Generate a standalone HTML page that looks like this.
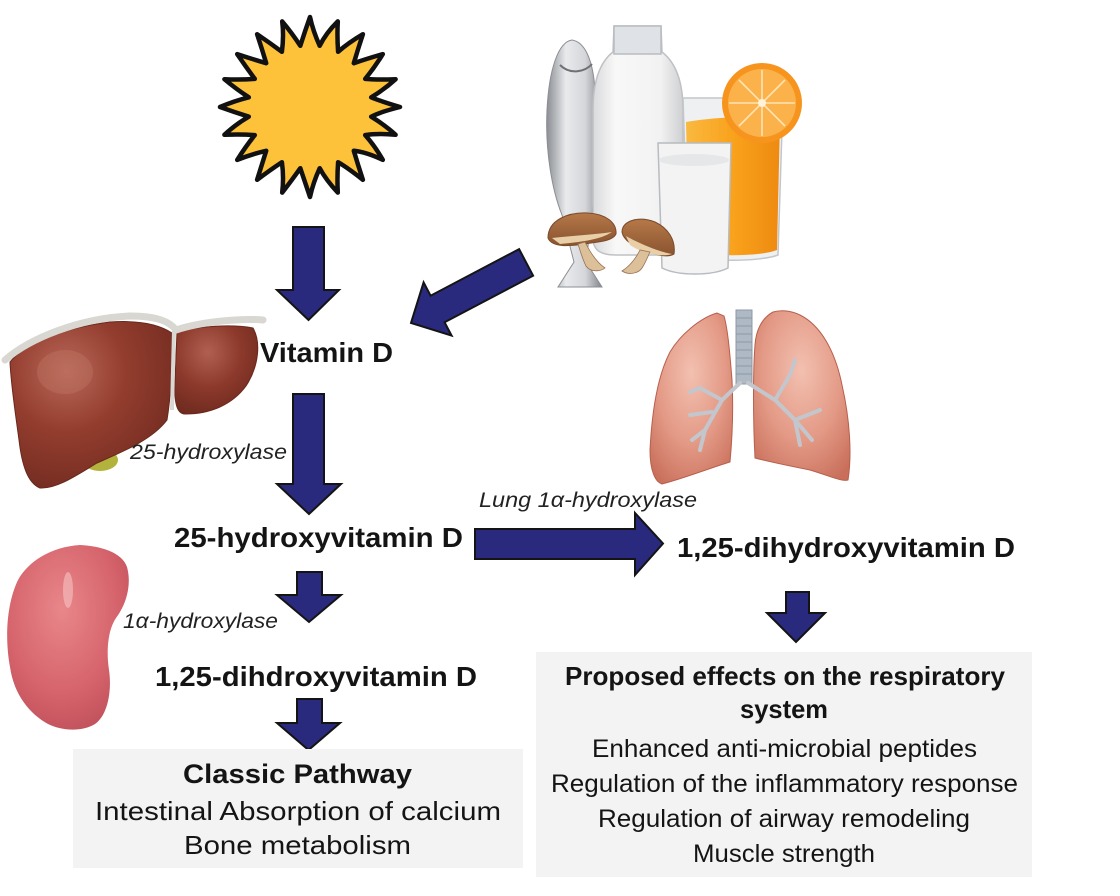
<!DOCTYPE html>
<html>
<head>
<meta charset="utf-8">
<style>
  html,body{margin:0;padding:0;background:#fff;}
  svg{display:block;}
  .b{font-family:"Liberation Sans",Arial,sans-serif;font-weight:bold;fill:#141414;}
  .r{font-family:"Liberation Sans",Arial,sans-serif;fill:#141414;}
  .i{font-family:"Liberation Sans",Arial,sans-serif;font-style:italic;fill:#222;}
</style>
</head>
<body>
<svg width="1120" height="896" viewBox="0 0 1120 896" xmlns="http://www.w3.org/2000/svg">
  <defs>
    <radialGradient id="liverG" cx="0.35" cy="0.3" r="0.8">
      <stop offset="0" stop-color="#b9685a"/>
      <stop offset="0.45" stop-color="#933d2e"/>
      <stop offset="1" stop-color="#6f2a1f"/>
    </radialGradient>
    <radialGradient id="liverG2" cx="0.4" cy="0.3" r="0.8">
      <stop offset="0" stop-color="#b06050"/>
      <stop offset="0.5" stop-color="#8c392b"/>
      <stop offset="1" stop-color="#6a281d"/>
    </radialGradient>
    <radialGradient id="kidG" cx="0.45" cy="0.35" r="0.75">
      <stop offset="0" stop-color="#e8878b"/>
      <stop offset="0.6" stop-color="#d6646c"/>
      <stop offset="1" stop-color="#bb4c57"/>
    </radialGradient>
    <radialGradient id="lungG" cx="0.5" cy="0.35" r="0.75">
      <stop offset="0" stop-color="#f3c0b0"/>
      <stop offset="0.55" stop-color="#e39a86"/>
      <stop offset="1" stop-color="#c86e5a"/>
    </radialGradient>
    <linearGradient id="fishG" x1="0" y1="0" x2="1" y2="0">
      <stop offset="0" stop-color="#8a8d92"/>
      <stop offset="0.35" stop-color="#e8eaec"/>
      <stop offset="0.7" stop-color="#d4d6d9"/>
      <stop offset="1" stop-color="#80838a"/>
    </linearGradient>
    <linearGradient id="milkG" x1="0" y1="0" x2="1" y2="0">
      <stop offset="0" stop-color="#d9dadc"/>
      <stop offset="0.25" stop-color="#f8f8f8"/>
      <stop offset="0.75" stop-color="#f2f2f2"/>
      <stop offset="1" stop-color="#cfd0d2"/>
    </linearGradient>
    <linearGradient id="juiceG" x1="0" y1="0" x2="1" y2="0">
      <stop offset="0" stop-color="#f9b940"/>
      <stop offset="0.5" stop-color="#f9a21c"/>
      <stop offset="1" stop-color="#ee8a10"/>
    </linearGradient>
    <linearGradient id="mushG" x1="0" y1="0" x2="0" y2="1">
      <stop offset="0" stop-color="#b57848"/>
      <stop offset="1" stop-color="#8a5430"/>
    </linearGradient>
  </defs>

  <!-- Sun (concave spikes) -->
  <path fill="#fdc13a" stroke="#111" stroke-width="4.5" stroke-linejoin="round"
    d="M400,107 Q380,112 371.2,116.7 Q385,125 395.6,134.8 Q378,133 365.2,135.1 Q375,146 382.8,159.9 Q366,152 353.8,150.8 Q358,165 362.9,179.8 Q348,168 338.1,162.2 Q337,178 337.8,192.6 Q326,180 319.7,168.2 Q313,183 310,197 Q305,182 300.3,168.2 Q292,180 282.2,192.6 Q284,177 281.9,162.2 Q270,170 257.1,179.8 Q262,164 266.2,150.8 Q252,154 237.2,159.9 Q246,146 254.8,135.1 Q240,134 224.4,134.8 Q236,124 248.8,116.7 Q234,112 220,107 Q234,101 248.8,97.3 Q236,89 224.4,79.2 Q240,80 254.8,78.9 Q246,67 237.2,54.1 Q252,59 266.2,63.2 Q262,49 257.1,34.2 Q270,43 281.9,51.8 Q284,36 282.2,21.4 Q292,33 300.3,45.8 Q305,31 310,17 Q313,31 319.7,45.8 Q326,33 337.8,21.4 Q337,36 338.1,51.8 Q348,43 362.9,34.2 Q358,49 353.8,63.2 Q366,59 382.8,54.1 Q375,67 365.2,78.9 Q378,80 395.6,79.2 Q385,89 371.2,97.3 Q380,101 400,107 Z"/>

  <!-- Food: fish -->
  <path d="M572,40 C585,42 593,60 595,90 C597,130 596,180 592,215 L586,262 L602,287 L558,287 L574,262 L562,215 C552,190 545,150 547,110 C549,70 558,42 572,40 Z" fill="url(#fishG)" stroke="#8c8f94" stroke-width="1"/>
  <path d="M560,65 C570,75 585,72 592,64" stroke="#6d7075" stroke-width="2" fill="none"/>
  <!-- milk bottle -->
  <path d="M614,26 L661,26 L662,52 C675,62 683,80 683,110 L683,238 C683,250 675,255 660,255 L616,255 C600,255 593,250 593,238 L593,110 C593,80 600,62 613,52 Z" fill="url(#milkG)" stroke="#bfc1c4" stroke-width="1.5"/>
  <rect x="614" y="26" width="47" height="28" fill="#dfe2e6" stroke="#b9bcc0" stroke-width="1.5"/>
  <!-- juice glass -->
  <path d="M683,98 L783,98 L778,255 C760,262 705,262 688,255 Z" fill="#eef0f2" stroke="#c4c7ca" stroke-width="1.5"/>
  <path d="M686,122 C720,116 760,116 780,120 L777,250 C760,257 705,257 689,250 Z" fill="url(#juiceG)"/>
  <!-- orange slice -->
  <circle cx="762" cy="103" r="40" fill="#f7941d"/>
  <circle cx="762" cy="103" r="34" fill="#fcb24a"/>
  <g stroke="#fde3b5" stroke-width="1.6">
    <line x1="762" y1="70" x2="762" y2="136"/>
    <line x1="729" y1="103" x2="795" y2="103"/>
    <line x1="739" y1="80" x2="785" y2="126"/>
    <line x1="785" y1="80" x2="739" y2="126"/>
  </g>
  <circle cx="762" cy="103" r="4" fill="#fff2d8"/>
  <!-- milk glass -->
  <path d="M658,143 L731,143 L728,268 C712,276 678,276 662,268 Z" fill="#f3f3f3" stroke="#b8bbbf" stroke-width="1.5"/>
  <ellipse cx="694" cy="160" rx="35" ry="6" fill="#e6e7e9"/>
  <!-- mushrooms -->
  <path d="M548,238 C548,220 568,212 588,213 C605,214 617,222 616,234 C612,242 595,242 585,244 C570,246 552,248 548,238 Z" fill="url(#mushG)" stroke="#7a4a2a" stroke-width="1"/>
  <path d="M552,238 C570,236 600,234 612,232 C600,240 580,242 560,244 Z" fill="#e8cfa8"/>
  <path d="M585,242 C590,252 596,262 605,268 C600,272 590,272 586,266 C582,258 580,250 578,244 Z" fill="#dcc09a" stroke="#9a7050" stroke-width="0.8"/>
  <path d="M622,232 C622,220 640,216 655,222 C668,228 676,240 674,254 C668,258 655,255 645,250 C635,246 624,242 622,232 Z" fill="url(#mushG)" stroke="#7a4a2a" stroke-width="1"/>
  <path d="M626,236 C640,244 660,252 672,254 C660,258 640,252 630,245 Z" fill="#e8cfa8"/>
  <path d="M640,250 C636,258 630,266 622,271 C628,275 638,274 642,268 C646,262 648,256 650,252 Z" fill="#dcc09a" stroke="#9a7050" stroke-width="0.8"/>

  <!-- Liver -->
  <ellipse cx="100" cy="460" rx="18" ry="11" fill="#b3b23c"/>
  <path d="M10,362 C24,344 62,328 110,322 C140,320 160,325 172,333 C173,360 171,395 167,420 C152,440 122,452 97,463 C77,475 57,489 40,488 C28,483 22,466 19,440 C15,410 11,385 10,362 Z" fill="url(#liverG)" stroke="#6a281c" stroke-width="1"/>
  <path d="M177,332 C200,326 232,324 253,328 C261,342 259,366 246,386 C232,405 210,414 185,414 C176,414 174,400 175,380 Z" fill="url(#liverG2)" stroke="#6a281c" stroke-width="1"/>
  <ellipse cx="65" cy="372" rx="28" ry="22" fill="#c47a68" opacity="0.35"/>
  <path d="M5,360 C30,338 80,318 130,316 C158,316 170,322 176,330 C200,322 240,318 263,320" fill="none" stroke="#d9d7d2" stroke-width="7" stroke-linecap="round"/>
  <path d="M174,330 L172,410" stroke="#d9d7d2" stroke-width="4"/>

  <!-- Kidney -->
  <path d="M80,545 C100,546 122,552 127,567 C132,585 126,605 116,618 C108,630 106,650 109,670 C112,690 108,715 95,724 C82,732 62,731 48,724 C30,714 14,695 10,667 C5,640 6,605 18,580 C28,562 50,547 80,545 Z" fill="url(#kidG)"/>
  <ellipse cx="68" cy="590" rx="5" ry="18" fill="#f4b8b8" opacity="0.7"/>

  <!-- Lungs -->
  <path d="M717,313 C700,318 680,335 670,352 C658,375 652,410 650,450 C650,470 655,482 662,484 C685,478 710,468 730,462 C733,430 733,400 732,380 C730,355 728,330 724,316 Z" fill="url(#lungG)" stroke="#b85f4c" stroke-width="1"/>
  <path d="M773,312 C762,318 756,330 755,345 C753,370 753,420 755,458 C770,462 790,466 810,470 C830,476 842,482 848,480 C852,455 850,420 842,385 C835,350 820,325 800,315 C790,310 780,310 773,312 Z" fill="url(#lungG)" stroke="#b85f4c" stroke-width="1"/>
  <rect x="736" y="310" width="16" height="74" fill="#aeb9c5" stroke="#8d99a6" stroke-width="1"/>
  <g stroke="#8d99a6" stroke-width="1">
    <line x1="736" y1="318" x2="752" y2="318"/><line x1="736" y1="326" x2="752" y2="326"/>
    <line x1="736" y1="334" x2="752" y2="334"/><line x1="736" y1="342" x2="752" y2="342"/>
    <line x1="736" y1="350" x2="752" y2="350"/><line x1="736" y1="358" x2="752" y2="358"/>
    <line x1="736" y1="366" x2="752" y2="366"/><line x1="736" y1="374" x2="752" y2="374"/>
  </g>
  <g stroke="#c3c6cc" stroke-width="4" fill="none" stroke-linecap="round">
    <path d="M740,383 L722,400 L705,430 L692,440"/>
    <path d="M722,400 L700,388 L690,392"/>
    <path d="M705,430 L700,450"/>
    <path d="M712,412 L690,415"/>
    <path d="M748,383 L775,400 L795,420 L812,440"/>
    <path d="M775,400 L790,375 L795,360"/>
    <path d="M795,420 L820,410"/>
    <path d="M795,420 L800,445"/>
  </g>

  <!-- Arrows -->
  <g fill="#292a7d" stroke="#141414" stroke-width="2" stroke-linejoin="miter">
    <polygon points="293,227 324,227 324,290 339,290 308.5,320 277,290 293,290"/>
    <polygon points="519.1,249.1 430.6,295.7 423.6,282.4 411,323 451.6,335.6 444.6,322.3 533.1,275.7"/>
    <polygon points="293,394 324,394 324,484 341,484 309,514 277,484 293,484"/>
    <polygon points="475,529 635,529 635,513 663,543.5 635,575 635,559 475,559"/>
    <polygon points="297,572 322,572 322,595 341,595 309,622 277,595 297,595"/>
    <polygon points="297,699 322,699 322,723 340,723 308.5,750 277,723 297,723"/>
    <polygon points="786,592 809,592 809,613 825,613 796,642 767,613 786,613"/>
  </g>

  <!-- Boxes -->
  <rect x="73" y="749" width="450" height="119" fill="#f3f3f3"/>
  <rect x="536" y="652" width="496" height="225" fill="#f3f3f3"/>

  <!-- Labels -->
  <text class="b" x="260" y="362" font-size="28" textLength="133" lengthAdjust="spacingAndGlyphs">Vitamin D</text>
  <text class="i" x="130" y="459" font-size="21" textLength="157" lengthAdjust="spacingAndGlyphs">25-hydroxylase</text>
  <text class="b" x="174" y="547" font-size="28" textLength="289" lengthAdjust="spacingAndGlyphs">25-hydroxyvitamin D</text>
  <text class="i" x="479" y="507" font-size="21" textLength="218" lengthAdjust="spacingAndGlyphs">Lung 1α-hydroxylase</text>
  <text class="b" x="677" y="557" font-size="28" textLength="338" lengthAdjust="spacingAndGlyphs">1,25-dihydroxyvitamin D</text>
  <text class="i" x="123" y="628" font-size="21" textLength="155" lengthAdjust="spacingAndGlyphs">1α-hydroxylase</text>
  <text class="b" x="155" y="686" font-size="28" textLength="322" lengthAdjust="spacingAndGlyphs">1,25-dihdroxyvitamin D</text>

  <text class="b" x="183" y="783" font-size="27" textLength="229" lengthAdjust="spacingAndGlyphs">Classic Pathway</text>
  <text class="r" x="95" y="820" font-size="26" textLength="406" lengthAdjust="spacingAndGlyphs">Intestinal Absorption of calcium</text>
  <text class="r" x="184" y="854" font-size="26" textLength="227" lengthAdjust="spacingAndGlyphs">Bone metabolism</text>

  <text class="b" x="565" y="685" font-size="26" textLength="440" lengthAdjust="spacingAndGlyphs">Proposed effects on the respiratory</text>
  <text class="b" x="740" y="718" font-size="26" textLength="88" lengthAdjust="spacingAndGlyphs">system</text>
  <text class="r" x="592" y="757" font-size="25" textLength="385" lengthAdjust="spacingAndGlyphs">Enhanced anti-microbial peptides</text>
  <text class="r" x="551" y="792" font-size="25" textLength="467" lengthAdjust="spacingAndGlyphs">Regulation of the inflammatory response</text>
  <text class="r" x="598" y="827" font-size="25" textLength="372" lengthAdjust="spacingAndGlyphs">Regulation of airway remodeling</text>
  <text class="r" x="693" y="862" font-size="25" textLength="182" lengthAdjust="spacingAndGlyphs">Muscle strength</text>
</svg>
</body>
</html>
